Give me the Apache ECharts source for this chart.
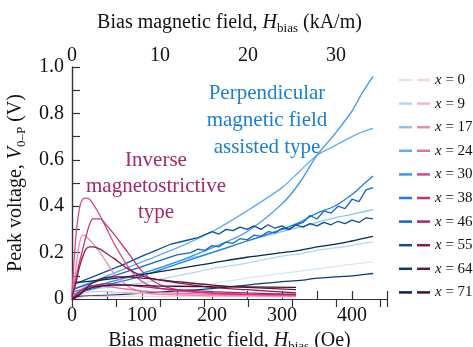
<!DOCTYPE html>
<html>
<head>
<meta charset="utf-8">
<script src="https://cdn.jsdelivr.net/npm/echarts@6/dist/echarts.min.js"></script>
<style>
  html, body { margin: 0; padding: 0; background: #fff; }
  #chart { width: 473px; height: 347px; }
</style>
</head>
<body>
<div id="chart"></div>
<script>
// sample labels (x = composition)
const xLabels = ['0', '9', '17', '24', '30', '38', '46', '55', '64', '71'];

// perpendicular-field type, Oe grid shared by the smooth curves
const blueX = [0, 50, 100, 150, 200, 250, 300, 325, 350, 375, 400, 415, 430];
const blue0 = [0.01, 0.02, 0.035, 0.05, 0.065, 0.09, 0.11, 0.12, 0.13, 0.14, 0.15, 0.155, 0.16];
const blue9 = [0.03, 0.05, 0.07, 0.10, 0.13, 0.155, 0.185, 0.195, 0.21, 0.22, 0.23, 0.24, 0.245];
const blue17 = [0.03, 0.07, 0.11, 0.16, 0.20, 0.25, 0.29, 0.31, 0.33, 0.35, 0.365, 0.375, 0.385];
const blue24 = [0.04, 0.10, 0.16, 0.22, 0.29, 0.38, 0.48, 0.55, 0.62, 0.66, 0.70, 0.72, 0.735];
const blue30 = [0.03, 0.07, 0.11, 0.16, 0.22, 0.29, 0.41, 0.50, 0.62, 0.71, 0.81, 0.89, 0.96];
const blue38 = [0.02, 0.06, 0.10, 0.15, 0.20, 0.25, 0.30, 0.33, 0.37, 0.40, 0.45, 0.49, 0.53];
const blue64 = [0.01, 0.015, 0.025, 0.035, 0.045, 0.06, 0.075, 0.08, 0.09, 0.095, 0.10, 0.105, 0.11];
const blue71 = [0.07, 0.085, 0.105, 0.13, 0.155, 0.18, 0.20, 0.21, 0.225, 0.235, 0.25, 0.26, 0.27];

// the two noisy ones, read on a finer grid
const blue46X = [0, 25, 50, 75, 100, 125, 150, 170, 180, 190, 200, 210, 220, 230, 240, 250, 260, 270, 280, 290, 300, 310, 320, 330, 340, 350, 360, 370, 380, 390, 400, 410, 420, 430];
const blue46 = [0.04, 0.065, 0.09, 0.115, 0.14, 0.165, 0.19, 0.20, 0.215, 0.21, 0.23, 0.225, 0.245, 0.24, 0.26, 0.255, 0.275, 0.27, 0.29, 0.285, 0.305, 0.30, 0.32, 0.33, 0.36, 0.345, 0.38, 0.37, 0.40, 0.39, 0.43, 0.42, 0.47, 0.48];
const blue55X = [0, 25, 50, 75, 100, 120, 140, 160, 180, 200, 210, 220, 230, 240, 250, 260, 270, 280, 290, 300, 310, 320, 330, 340, 350, 360, 370, 380, 390, 400, 410, 420, 430];
const blue55 = [0.06, 0.09, 0.12, 0.15, 0.185, 0.21, 0.235, 0.25, 0.265, 0.29, 0.28, 0.30, 0.295, 0.31, 0.30, 0.315, 0.30, 0.32, 0.305, 0.315, 0.30, 0.32, 0.31, 0.325, 0.315, 0.33, 0.32, 0.335, 0.325, 0.34, 0.33, 0.35, 0.345];

// inverse magnetostrictive type
const pinkX = [0, 5, 10, 15, 20, 25, 30, 40, 50, 60, 80, 100, 120, 150, 200, 250, 320];
const pink0 = [0.002, 0.004, 0.006, 0.008, 0.009, 0.01, 0.01, 0.011, 0.012, 0.012, 0.012, 0.012, 0.011, 0.01, 0.01, 0.009, 0.008];
const pink9 = [0.003, 0.01, 0.018, 0.024, 0.028, 0.03, 0.032, 0.033, 0.032, 0.03, 0.027, 0.024, 0.021, 0.018, 0.014, 0.012, 0.01];
const pink17 = [0.01, 0.12, 0.23, 0.275, 0.27, 0.255, 0.24, 0.20, 0.155, 0.11, 0.055, 0.03, 0.022, 0.018, 0.015, 0.015, 0.012];
const pink24 = [0.005, 0.02, 0.035, 0.045, 0.052, 0.056, 0.058, 0.058, 0.055, 0.05, 0.042, 0.035, 0.03, 0.025, 0.02, 0.018, 0.015];
const pink30 = [0.02, 0.25, 0.38, 0.43, 0.435, 0.43, 0.41, 0.36, 0.30, 0.24, 0.14, 0.075, 0.05, 0.035, 0.025, 0.02, 0.02];
const pink38 = [0.01, 0.08, 0.15, 0.21, 0.27, 0.32, 0.345, 0.345, 0.315, 0.28, 0.20, 0.12, 0.07, 0.04, 0.025, 0.02, 0.018];
const pink46 = [0.005, 0.015, 0.03, 0.04, 0.048, 0.054, 0.058, 0.063, 0.065, 0.064, 0.06, 0.053, 0.047, 0.04, 0.032, 0.026, 0.02];
const pink55 = [0.01, 0.06, 0.13, 0.18, 0.215, 0.225, 0.225, 0.215, 0.195, 0.175, 0.13, 0.10, 0.085, 0.07, 0.05, 0.04, 0.026];
const pink64 = [0.0, 0.005, 0.015, 0.03, 0.045, 0.06, 0.07, 0.085, 0.093, 0.095, 0.095, 0.09, 0.085, 0.075, 0.06, 0.05, 0.04];
const pink71 = [0.0, 0.01, 0.02, 0.03, 0.04, 0.045, 0.05, 0.055, 0.058, 0.06, 0.06, 0.058, 0.056, 0.055, 0.053, 0.052, 0.05];

const blueColors = ['#d4e8fa', '#b3d7f6', '#8ec4f2', '#62acee', '#3d95e8', '#1f7fe0', '#1566c4', '#0f4f98', '#0b3a70', '#07284d'];
const pinkColors = ['#f5d3e2', '#efb6cf', '#e68cb5', '#df70a3', '#d64a8c', '#c9317b', '#a82566', '#861d52', '#62173f', '#45102d'];

const OE_PER_KAM = 12.566;
const X_MAX = 450;
const FONT = 'Liberation Serif';

const blueSets = [
  [blueX, blue0], [blueX, blue9], [blueX, blue17], [blueX, blue24], [blueX, blue30],
  [blueX, blue38], [blue46X, blue46], [blue55X, blue55], [blueX, blue64], [blueX, blue71]
];
const pinkSets = [pink0, pink9, pink17, pink24, pink30, pink38, pink46, pink55, pink64, pink71];

const zip = (xs, ys) => xs.map((x, i) => [x, ys[i]]);

const series = [];
blueSets.forEach(([xs, ys], i) => {
  series.push({
    name: 'b' + xLabels[i],
    type: 'line',
    data: zip(xs, ys),
    showSymbol: false,
    smooth: xs === blueX ? 0.3 : false,
    lineStyle: { width: 1.3, color: blueColors[i] },
    itemStyle: { color: blueColors[i] },
    z: 2
  });
});
pinkSets.forEach((ys, i) => {
  series.push({
    name: 'x = ' + xLabels[i],
    type: 'line',
    data: zip(pinkX, ys),
    showSymbol: false,
    smooth: 0.3,
    lineStyle: { width: 1.3, color: pinkColors[i] },
    itemStyle: { color: pinkColors[i] },
    z: 3
  });
});

const nameRich = {
  a: { fontFamily: FONT, fontSize: 20, color: '#111', lineHeight: 24 },
  i: { fontFamily: FONT, fontSize: 20, color: '#111', fontStyle: 'italic', lineHeight: 24 },
  s: { fontFamily: FONT, fontSize: 13, color: '#111', lineHeight: 24, verticalAlign: 'bottom' }
};

const axisLine = { show: true, lineStyle: { color: '#333', width: 1.2 } };
const axisTick = { show: true, inside: true, length: 8, lineStyle: { color: '#333', width: 1.2 } };
const axisLabelStyle = { fontFamily: FONT, fontSize: 20, color: '#111' };

const chart = echarts.init(document.getElementById('chart'));
chart.setOption({
  animation: false,
  backgroundColor: '#fff',
  grid: { left: 72, right: 86, top: 67, bottom: 48, outerBoundsMode: 'none', containLabel: false },
  xAxis: [
    {
      type: 'value', position: 'bottom', min: 0, max: X_MAX, interval: 50,
      axisLine, axisTick, splitLine: { show: false },
      axisLabel: { ...axisLabelStyle, margin: 7, formatter: v => (v % 100 === 0 ? String(v) : '') },
      name: '{a|Bias magnetic field, }{i|H}{s|bias}{a| (Oe)}',
      nameLocation: 'middle', nameGap: 26,
      nameTextStyle: { rich: nameRich }
    },
    {
      type: 'value', position: 'top', min: 0, max: X_MAX / OE_PER_KAM, interval: 5,
      axisLine, axisTick, splitLine: { show: false },
      axisLabel: { ...axisLabelStyle, margin: 1, formatter: v => (v % 10 === 0 ? String(v) : '') },
      name: '{a|Bias magnetic field, }{i|H}{s|bias}{a| (kA/m)}',
      nameLocation: 'middle', nameGap: 32,
      nameTextStyle: { rich: nameRich }
    }
  ],
  yAxis: [
    {
      type: 'value', min: 0, max: 1, interval: 0.1,
      axisLine, axisTick, splitLine: { show: false },
      axisLabel: {
        ...axisLabelStyle, margin: 8,
        formatter: v => {
          const k = Math.round(v * 10);
          if (k % 2 !== 0) return '';
          return k === 0 ? '0' : (k / 10).toFixed(1);
        }
      },
      name: '{a|Peak voltage, }{i|V}{s|0–P}{a| (V)}',
      nameLocation: 'middle', nameRotate: 90, nameGap: 40,
      nameTextStyle: { rich: nameRich }
    },
    {
      type: 'value', position: 'right', min: 0, max: 1,
      axisLine, axisTick: { show: false }, axisLabel: { show: false }, splitLine: { show: false }
    }
  ],
  legend: [
    {
      data: series.slice(0, 10).map(s => s.name),
      orient: 'vertical', left: 394, top: 67,
      icon: 'rect', itemWidth: 13, itemHeight: 2.5, itemGap: 7.6,
      formatter: () => ' ',
      textStyle: { fontFamily: FONT, fontSize: 15, lineHeight: 16 },
      selectedMode: false
    },
    {
      data: series.slice(10).map(s => s.name),
      orient: 'vertical', left: 412, top: 67,
      icon: 'rect', itemWidth: 13, itemHeight: 2.5, itemGap: 7.6,
      formatter: n => '{i|x} = ' + n.slice(4),
      textStyle: {
        fontFamily: FONT, fontSize: 15, lineHeight: 16, color: '#111',
        rich: { i: { fontFamily: FONT, fontSize: 15, fontStyle: 'italic', color: '#111', lineHeight: 16 } }
      },
      selectedMode: false
    }
  ],
  graphic: [
    {
      type: 'text',
      style: {
        text: 'Perpendicular\nmagnetic field\nassisted type',
        x: 267, y: 80, textAlign: 'center',
        font: '21px "Liberation Serif"', lineHeight: 27, fill: '#1b7fd1'
      }
    },
    {
      type: 'text',
      style: {
        text: 'Inverse\nmagnetostrictive\ntype',
        x: 156, y: 147, textAlign: 'center',
        font: '21px "Liberation Serif"', lineHeight: 26, fill: '#a32a62'
      }
    }
  ],
  series
});
</script>
</body>
</html>
